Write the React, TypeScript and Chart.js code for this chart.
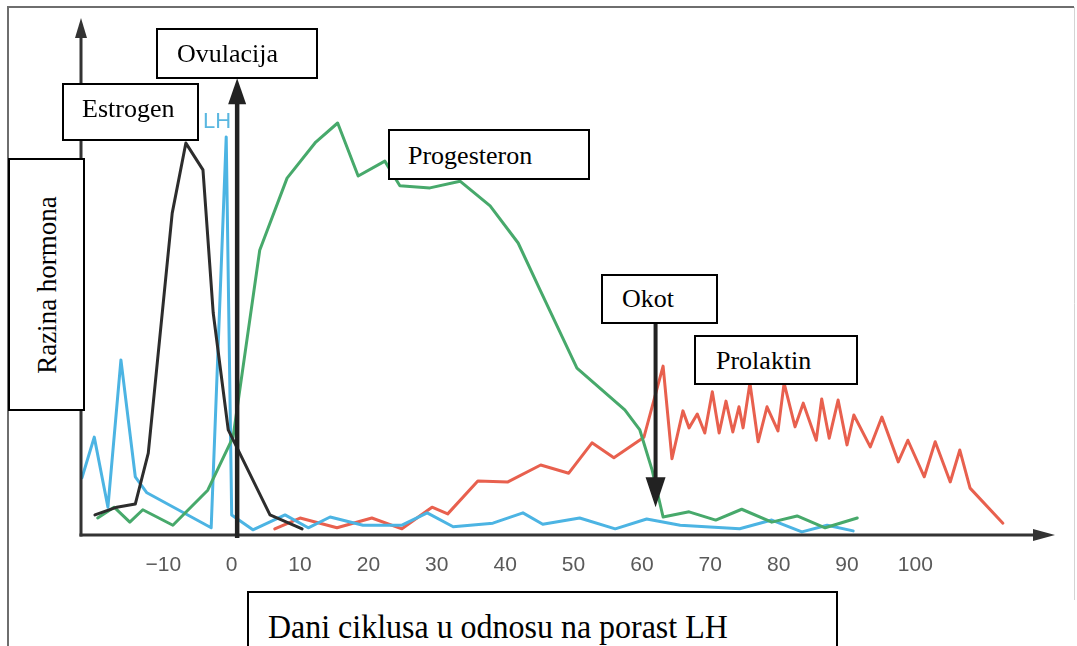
import React, { useEffect, useRef } from "react";
import { Chart, registerables } from "chart.js";

Chart.register(...registerables);

// ---------- data ----------
const TICK_VALUES = [-10, 0, 10, 20, 30, 40, 50, 60, 70, 80, 90, 100];
const TICK_LABELS = ["\u221210", "0", "10", "20", "30", "40", "50", "60", "70", "80", "90", "100"];

const ESTROGEN_DAYS = [-20.0, -16.8, -14.1, -12.2, -8.7, -6.7, -4.2, -2.7, -0.5, 5.6, 10.3];
const ESTROGEN_LEVELS = [3.9, 5.4, 6.0, 15.9, 62.5, 76.1, 70.9, 43.1, 20.4, 3.9, 1.2];

const LH_DAYS = [-21.9, -20.1, -18.1, -16.2, -14.1, -12.4, -3.0, -0.8, 0.0, 3.1, 7.8, 11.2, 14.4, 19.2, 24.9, 28.6, 32.4, 38.2, 42.6, 45.5, 50.9, 56.1, 60.7, 65.6, 74.3, 79.0, 83.4, 87.1, 90.9];
const LH_LEVELS = [11.1, 19.0, 5.4, 34.0, 11.3, 8.2, 1.4, 77.3, 3.9, 1.0, 3.9, 1.4, 3.5, 1.9, 1.9, 4.3, 1.6, 2.3, 4.3, 2.1, 3.3, 1.2, 3.1, 1.9, 1.2, 2.9, 0.6, 1.9, 0.8];

const PROGESTERONE_DAYS = [-19.6, -17.2, -14.9, -13.0, -8.6, -3.5, 0.2, 4.1, 8.1, 12.3, 15.5, 18.5, 22.4, 24.6, 29.0, 33.4, 37.8, 41.9, 45.1, 50.5, 57.5, 59.7, 61.5, 63.1, 66.9, 70.8, 74.6, 79.0, 82.7, 86.8, 91.5];
const PROGESTERONE_LEVELS = [3.3, 5.4, 2.5, 4.9, 1.9, 8.7, 19.0, 55.3, 69.3, 76.3, 80.0, 69.7, 72.6, 67.8, 67.4, 68.7, 63.9, 56.7, 47.6, 32.4, 24.3, 20.4, 12.6, 3.5, 4.5, 2.9, 5.0, 2.5, 3.7, 1.4, 3.3];

const PROLACTIN_DAYS = [6.3, 10.0, 15.4, 20.5, 24.9, 29.3, 31.6, 36.0, 40.4, 45.2, 49.3, 52.7, 55.9, 60.3, 63.1, 64.4, 66.0, 66.9, 68.1, 69.2, 70.3, 71.3, 72.3, 73.3, 74.2, 74.8, 75.8, 77.0, 78.3, 79.9, 80.8, 82.4, 83.6, 85.5, 86.3, 87.4, 88.7, 90.0, 91.0, 93.4, 95.1, 97.5, 98.9, 101.3, 102.9, 105.1, 106.5, 108.0, 112.8];
const PROLACTIN_LEVELS = [1.2, 3.3, 1.4, 3.3, 1.2, 5.4, 4.1, 10.5, 10.3, 13.6, 12.0, 17.9, 15.0, 19.0, 32.8, 14.8, 24.1, 20.8, 23.5, 19.8, 27.8, 19.8, 26.0, 20.0, 24.9, 20.8, 29.5, 18.1, 24.9, 20.2, 29.5, 21.0, 25.6, 18.4, 26.4, 18.8, 26.2, 17.5, 23.3, 17.1, 22.9, 14.2, 18.4, 11.3, 18.1, 10.3, 16.5, 9.1, 2.3];

const OVULATION_DAY = 0.8;
const OVULATION_TOP = 88.7;
const PARTURITION_DAY = 62;
const PARTURITION_FROM = 41.2;
const PARTURITION_TO = 5.4;

const X_MIN = -22.04;
const X_MAX = 120.13;
const Y_MIN = 0;
const Y_MAX = 100;

// ---------- layout ----------
const W = 1077;
const H = 646;

const toPoints = (xs: number[], ys: number[]) => xs.map((x, i) => ({ x, y: ys[i] }));

const drawArrow = (
  ctx: CanvasRenderingContext2D,
  x: number,
  yFrom: number,
  yTip: number,
  lw: number,
  headLen: number,
  headHalf: number,
  color: string
) => {
  const dir = yTip < yFrom ? -1 : 1;
  ctx.save();
  ctx.strokeStyle = color;
  ctx.fillStyle = color;
  ctx.lineWidth = lw;
  ctx.beginPath();
  ctx.moveTo(x, yFrom);
  ctx.lineTo(x, yTip - dir * (headLen - 2));
  ctx.stroke();
  ctx.beginPath();
  ctx.moveTo(x, yTip);
  ctx.lineTo(x - headHalf, yTip - dir * headLen);
  ctx.lineTo(x + headHalf, yTip - dir * headLen);
  ctx.closePath();
  ctx.fill();
  ctx.restore();
};

const decorPlugin = {
  id: "decor",
  beforeDraw(chart: any) {
    const ctx = chart.ctx as CanvasRenderingContext2D;
    ctx.save();
    ctx.fillStyle = "#ffffff";
    ctx.fillRect(0, 0, W, H);
    ctx.strokeStyle = "#6e6e6e";
    ctx.lineWidth = 2;
    ctx.beginPath();
    ctx.moveTo(8, H);
    ctx.lineTo(8, 7);
    ctx.lineTo(1074, 7);
    ctx.stroke();
    ctx.strokeStyle = "#d4d4d4";
    ctx.lineWidth = 1;
    ctx.beginPath();
    ctx.moveTo(1074.5, 7);
    ctx.lineTo(1074.5, 600);
    ctx.stroke();
    ctx.restore();
  },
  afterDatasetsDraw(chart: any) {
    const ctx = chart.ctx as CanvasRenderingContext2D;
    const a = chart.chartArea;
    const xs = chart.scales.x;
    const ys = chart.scales.y;
    const y0 = ys.getPixelForValue(0);
    ctx.save();
    // y axis with arrow
    drawArrow(ctx, a.left, y0 + 1.5, a.top - 2, 3, 20, 6, "#333333");
    // x axis with arrow
    ctx.strokeStyle = "#333333";
    ctx.fillStyle = "#333333";
    ctx.lineWidth = 3;
    ctx.beginPath();
    ctx.moveTo(a.left - 1.5, y0);
    ctx.lineTo(a.right - 18, y0);
    ctx.stroke();
    ctx.beginPath();
    ctx.moveTo(a.right + 2, y0);
    ctx.lineTo(a.right - 20, y0 - 6);
    ctx.lineTo(a.right - 20, y0 + 6);
    ctx.closePath();
    ctx.fill();
    ctx.restore();
    // ovulation arrow (upward)
    drawArrow(ctx, xs.getPixelForValue(OVULATION_DAY), y0 + 3, ys.getPixelForValue(OVULATION_TOP), 4.5, 26, 9, "#222222");
    // parturition arrow (downward)
    drawArrow(
      ctx,
      xs.getPixelForValue(PARTURITION_DAY),
      ys.getPixelForValue(PARTURITION_FROM),
      ys.getPixelForValue(PARTURITION_TO),
      4,
      30,
      10,
      "#222222"
    );
  },
};

type BoxProps = {
  x: number;
  y: number;
  w: number;
  h: number;
  text: string;
  tx: number;
  base: number;
  size?: number;
  scaleX?: number;
};

const SERIF = "'Liberation Serif', 'Times New Roman', Times, serif";

function Box({ x, y, w, h, text, tx, base, size = 26, scaleX = 1 }: BoxProps) {
  return (
    <div
      style={{
        position: "absolute",
        left: x,
        top: y,
        width: w,
        height: h,
        boxSizing: "border-box",
        border: "2px solid #000",
        background: "#fff",
      }}
    >
      <div
        style={{
          position: "absolute",
          left: tx - x - 2,
          top: base - y - 2 - 0.8375 * size,
          fontFamily: SERIF,
          fontSize: size,
          lineHeight: `${size}px`,
          whiteSpace: "nowrap",
          color: "#000",
          transform: `scaleX(${scaleX})`,
          transformOrigin: "left top",
        }}
      >
        {text}
      </div>
    </div>
  );
}

export default function App() {
  const canvasRef = useRef<HTMLCanvasElement | null>(null);

  useEffect(() => {
    if (!canvasRef.current) return;
    const chart = new Chart(canvasRef.current, {
      type: "line",
      data: {
        datasets: [
          {
            label: "Estrogen",
            data: toPoints(ESTROGEN_DAYS, ESTROGEN_LEVELS),
            borderColor: "#2d2d2d",
            borderWidth: 3,
            pointRadius: 0,
            order: 1,
          },
          {
            label: "Progesteron",
            data: toPoints(PROGESTERONE_DAYS, PROGESTERONE_LEVELS),
            borderColor: "#47a96b",
            borderWidth: 3,
            pointRadius: 0,
            order: 2,
          },
          {
            label: "LH",
            data: toPoints(LH_DAYS, LH_LEVELS),
            borderColor: "#4cb4e3",
            borderWidth: 3,
            pointRadius: 0,
            order: 3,
          },
          {
            label: "Prolaktin",
            data: toPoints(PROLACTIN_DAYS, PROLACTIN_LEVELS),
            borderColor: "#e8604e",
            borderWidth: 3,
            pointRadius: 0,
            order: 4,
          },
        ],
      },
      options: {
        responsive: false,
        animation: false,
        devicePixelRatio: 1,
        layout: { padding: { left: 81, right: 24, top: 20, bottom: 0 } },
        plugins: { legend: { display: false }, tooltip: { enabled: false } },
        elements: { line: { tension: 0, borderJoinStyle: "round", borderCapStyle: "round" } },
        scales: {
          x: {
            type: "linear",
            min: X_MIN,
            max: X_MAX,
            grid: { display: false, drawTicks: false },
            border: { display: false },
            afterBuildTicks: (s: any) => {
              s.ticks = TICK_VALUES.map((v) => ({ value: v }));
            },
            afterFit: (s: any) => {
              s.height = 111;
            },
            ticks: {
              autoSkip: false,
              maxRotation: 0,
              padding: 18,
              color: "#5a5a5a",
              font: { family: "'Liberation Sans', Arial, sans-serif", size: 21 },
              callback: (v: any) => {
                const i = TICK_VALUES.indexOf(Number(v));
                return i >= 0 ? TICK_LABELS[i] : "";
              },
            },
          },
          y: { display: false, min: Y_MIN, max: Y_MAX },
        },
      } as any,
      plugins: [decorPlugin],
    });
    return () => chart.destroy();
  }, []);

  return (
    <div
      style={{
        position: "fixed",
        left: 0,
        top: 0,
        width: W,
        height: H,
        overflow: "hidden",
        background: "#fff",
      }}
    >
      <canvas ref={canvasRef} width={W} height={H} style={{ position: "absolute", left: 0, top: 0, width: W, height: H }} />
      <div
        style={{
          position: "absolute",
          left: 203,
          top: 129 - 0.8465 * 22,
          fontFamily: "'Liberation Sans', Arial, sans-serif",
          fontSize: 22,
          lineHeight: "22px",
          color: "#5ab7e0",
        }}
      >
        LH
      </div>
      <Box x={156} y={28} w={162} h={51} text="Ovulacija" tx={177} base={63} />
      <Box x={62} y={83} w={137} h={58} text="Estrogen" tx={82} base={118} />
      <Box x={388} y={129} w={202} h={51} text="Progesteron" tx={408} base={165} />
      <Box x={601} y={274} w={117} h={50} text="Okot" tx={622} base={308} />
      <Box x={694} y={335} w={164} h={50} text="Prolaktin" tx={716} base={370} />
      <Box x={247} y={591} w={591} h={80} text="Dani ciklusa u odnosu na porast LH" tx={268} base={638} size={34} scaleX={0.94} />
      <div
        style={{
          position: "absolute",
          left: 8,
          top: 158,
          width: 77,
          height: 253,
          boxSizing: "border-box",
          border: "2px solid #000",
          background: "#fff",
        }}
      >
        <div
          style={{
            position: "absolute",
            left: "50%",
            top: "50%",
            transform: "translate(-50%, -50%) rotate(-90deg)",
            fontFamily: SERIF,
            fontSize: 27,
            lineHeight: "27px",
            whiteSpace: "nowrap",
            color: "#000",
          }}
        >
          Razina hormona
        </div>
      </div>
    </div>
  );
}
